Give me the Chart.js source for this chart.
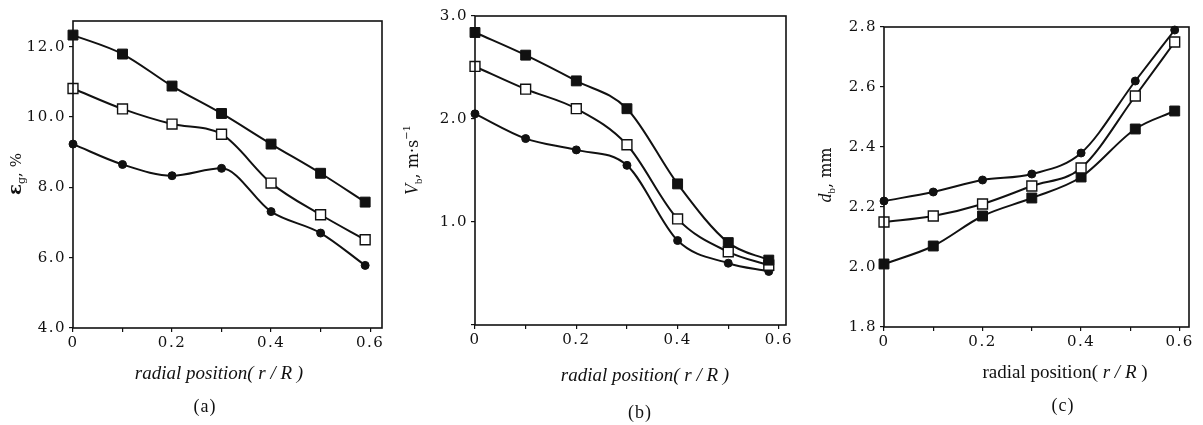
<!DOCTYPE html>
<html>
<head>
<meta charset="utf-8">
<script src="https://cdn.jsdelivr.net/npm/chart.js@4.4.0/dist/chart.umd.min.js"></script>
<style>
  html, body { margin: 0; padding: 0; background: #fff; }
  #wrap { position: relative; width: 1203px; height: 425px; overflow: hidden; }
  canvas { position: absolute; top: 0; }
</style>
</head>
<body>
<div id="wrap">
  <canvas id="ca" width="400" height="425" style="left:0"></canvas>
  <canvas id="cb" width="400" height="425" style="left:400px"></canvas>
  <canvas id="cc" width="403" height="425" style="left:800px"></canvas>
</div>
<script>
// radial positions r/R of the measuring points
const X_A = [0, 0.1, 0.2, 0.3, 0.4, 0.5, 0.59];
const X_B = [0, 0.1, 0.2, 0.3, 0.4, 0.5, 0.58];
const X_C = [0, 0.1, 0.2, 0.3, 0.4, 0.51, 0.59];

// (a) gas holdup, %
const A_SQ   = [12.33, 11.79, 10.88, 10.10, 9.23, 8.40, 7.58];
const A_OPEN = [10.81, 10.23, 9.80, 9.51, 8.12, 7.22, 6.51];
const A_DOT  = [9.23, 8.65, 8.33, 8.54, 7.31, 6.70, 5.78];

// (b) bubble velocity, m/s
const B_SQ   = [2.84, 2.62, 2.37, 2.10, 1.37, 0.80, 0.63];
const B_OPEN = [2.51, 2.29, 2.10, 1.75, 1.03, 0.71, 0.58];
const B_DOT  = [2.05, 1.81, 1.70, 1.55, 0.82, 0.60, 0.52];

// (c) bubble diameter, mm
const C_DOT  = [2.22, 2.25, 2.29, 2.31, 2.38, 2.62, 2.79];
const C_OPEN = [2.15, 2.17, 2.21, 2.27, 2.33, 2.57, 2.75];
const C_SQ   = [2.01, 2.07, 2.17, 2.23, 2.30, 2.46, 2.52];

// tick positions and labels
const X_TICKS = [0, 0.1, 0.2, 0.3, 0.4, 0.5, 0.6];
const X_TICK_LABELS = ['0', '', '0.2', '', '0.4', '', '0.6'];
const A_Y_TICKS = [4, 6, 8, 10, 12];
const B_Y_TICKS = [0, 1, 2, 3];
const C_Y_TICKS = [1.8, 2.0, 2.2, 2.4, 2.6, 2.8];
const CAPTIONS = ['(a)', '(b)', '(c)'];

const INK = '#111';
const SERIF = '"DejaVu Serif", serif';
const TIMES = '"Liberation Serif", serif';

const markStyles = {
  sq:   { pointStyle: 'rect', pointRadius: 7, backgroundColor: INK, borderColor: INK, pointBorderWidth: 1 },
  open: { pointStyle: 'rect', pointRadius: 7, backgroundColor: '#fff', borderColor: INK, pointBorderWidth: 1.4 },
  dot:  { pointStyle: 'circle', pointRadius: 4, backgroundColor: INK, borderColor: INK, pointBorderWidth: 1 }
};

function drawRich(ctx, parts, cx, cy, rotate) {
  ctx.save();
  ctx.translate(cx, cy);
  if (rotate) ctx.rotate(-Math.PI / 2);
  ctx.textAlign = 'left';
  ctx.textBaseline = 'alphabetic';
  ctx.fillStyle = INK;
  let w = 0;
  parts.forEach(p => { ctx.font = p.font; w += ctx.measureText(p.text).width; });
  let x = -w / 2;
  parts.forEach(p => {
    ctx.font = p.font;
    ctx.fillText(p.text, x, 6 + (p.dy || 0));
    x += ctx.measureText(p.text).width;
  });
  ctx.restore();
}

const frameAndTitles = {
  id: 'frameAndTitles',
  beforeDraw(chart) {
    chart.ctx.letterSpacing = '1.5px';
  },
  afterDraw(chart, args, opts) {
    const { ctx, chartArea: a } = chart;
    ctx.save();
    ctx.letterSpacing = '0px';
    ctx.strokeStyle = INK;
    ctx.lineWidth = 1.6;
    ctx.strokeRect(a.left, a.top, a.right - a.left, a.bottom - a.top);
    ctx.restore();
    ctx.letterSpacing = '0px';
    drawRich(ctx, opts.yTitle.parts, opts.yTitle.x, opts.yTitle.y, true);
    drawRich(ctx, opts.xTitle.parts, opts.xTitle.x, opts.xTitle.y, false);
    ctx.letterSpacing = '1px';
    drawRich(ctx, [{ text: opts.caption.text, font: '18px ' + TIMES }], opts.caption.x, opts.caption.y, false);
    ctx.letterSpacing = '0px';
  }
};

const panels = [
  {
    id: 'ca', xs: X_A, series: [[A_SQ, 'sq'], [A_OPEN, 'open'], [A_DOT, 'dot']],
    area: { left: 73, top: 21, right: 382, bottom: 328 },
    xMax: 0.624, yMin: 4, yMax: 12.73, yTicks: A_Y_TICKS, hideZero: false,
    yTitle: { x: 15, y: 174, parts: [
      { text: 'ε', font: 'bold 18px ' + SERIF },
      { text: 'g', font: '11px ' + SERIF, dy: 4 },
      { text: ', %', font: '15px ' + SERIF }
    ] },
    xTitle: { x: 219, y: 373, parts: [
      { text: 'radial position( ', font: 'italic 19px ' + TIMES },
      { text: 'r / R', font: 'italic 19px ' + TIMES },
      { text: ' )', font: 'italic 19px ' + TIMES }
    ] },
    caption: { x: 205, y: 406, text: CAPTIONS[0] }
  },
  {
    id: 'cb', xs: X_B, series: [[B_SQ, 'sq'], [B_OPEN, 'open'], [B_DOT, 'dot']],
    area: { left: 75, top: 16, right: 386, bottom: 325 },
    xMax: 0.614, yMin: 0, yMax: 3.0, yTicks: B_Y_TICKS, hideZero: true,
    yTitle: { x: 12, y: 160, parts: [
      { text: 'V', font: 'italic 18px ' + TIMES },
      { text: 'b', font: '11px ' + TIMES, dy: 4 },
      { text: ', m·s', font: '16px ' + SERIF },
      { text: '−1', font: '10px ' + SERIF, dy: -8 }
    ] },
    xTitle: { x: 245, y: 375, parts: [
      { text: 'radial position( ', font: 'italic 19px ' + TIMES },
      { text: 'r / R', font: 'italic 19px ' + TIMES },
      { text: ' )', font: 'italic 19px ' + TIMES }
    ] },
    caption: { x: 240, y: 412, text: CAPTIONS[1] }
  },
  {
    id: 'cc', xs: X_C, series: [[C_DOT, 'dot'], [C_OPEN, 'open'], [C_SQ, 'sq']],
    area: { left: 84, top: 27, right: 389, bottom: 327 },
    xMax: 0.619, yMin: 1.8, yMax: 2.8, yTicks: C_Y_TICKS, hideZero: false,
    yTitle: { x: 25, y: 175, parts: [
      { text: 'd', font: 'italic 18px ' + TIMES },
      { text: 'b', font: '11px ' + TIMES, dy: 4 },
      { text: ', mm', font: '16px ' + SERIF }
    ] },
    xTitle: { x: 265, y: 372, parts: [
      { text: 'radial position( ', font: '19px ' + TIMES },
      { text: 'r / R', font: 'italic 19px ' + TIMES },
      { text: ' )', font: '19px ' + TIMES }
    ] },
    caption: { x: 263, y: 405, text: CAPTIONS[2] }
  }
];

panels.forEach(p => {
  const canvas = document.getElementById(p.id);
  const W = canvas.width, H = canvas.height;
  const datasets = p.series.map(([vals, kind]) => Object.assign({
    data: vals.map((v, i) => ({ x: p.xs[i], y: v })),
    borderWidth: 2,
    cubicInterpolationMode: 'monotone',
    clip: false
  }, markStyles[kind], { borderColor: INK }));

  new Chart(canvas, {
    type: 'line',
    data: { datasets },
    options: {
      responsive: false,
      animation: false,
      events: [],
      layout: { padding: { top: p.area.top, right: W - p.area.right, left: 0, bottom: 0 } },
      plugins: {
        legend: { display: false },
        tooltip: { enabled: false },
        frameAndTitles: { yTitle: p.yTitle, xTitle: p.xTitle, caption: p.caption }
      },
      scales: {
        x: {
          type: 'linear', min: 0, max: p.xMax,
          border: { display: false },
          grid: { drawOnChartArea: false, tickLength: 4, color: INK, lineWidth: 1.2 },
          afterBuildTicks: s => { s.ticks = X_TICKS.map(v => ({ value: v })); },
          afterFit: s => { s.height = H - p.area.bottom; },
          ticks: {
            autoSkip: false, maxRotation: 0, padding: 2, color: INK,
            font: { family: SERIF, size: 15 },
            callback: (v, i) => X_TICK_LABELS[i] || ''
          }
        },
        y: {
          min: p.yMin, max: p.yMax,
          border: { display: false },
          grid: { drawOnChartArea: false, tickLength: 4, color: INK, lineWidth: 1.2 },
          afterBuildTicks: s => { s.ticks = p.yTicks.map(v => ({ value: v })); },
          afterFit: s => { s.width = p.area.left; },
          ticks: {
            autoSkip: false, padding: 3, color: INK,
            font: { family: SERIF, size: 15 },
            callback: v => (p.hideZero && Math.abs(v) < 1e-9) ? '' : Number(v).toFixed(1)
          }
        }
      }
    },
    plugins: [frameAndTitles]
  });
});
</script>
</body>
</html>
